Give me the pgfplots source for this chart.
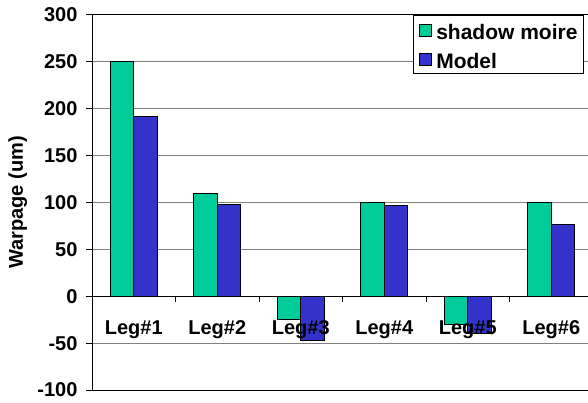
\documentclass[border=0pt]{standalone}
\usepackage{fontspec}
\setmainfont{Liberation Sans}
\usepackage{pgfplots}
\pgfplotsset{compat=1.18}
\definecolor{cgreen}{RGB}{0,204,153}
\definecolor{cblue}{RGB}{51,51,204}
\pgfplotsset{sqlegend/.style={legend image code/.code={\draw[##1, line width=0.75bp] (0bp,-6bp) rectangle (12bp,6bp); \path (-1bp,0bp) (15bp,0bp);}}}
\pgfplotsset{common/.style={
  at={(92bp,12bp)}, anchor=south west,
  scale only axis, width=501bp, height=375bp,
  xmin=-0.5, xmax=5.5, ymin=-100, ymax=300,
  axis x line=middle, axis y line=left,
  hide obscured x ticks=false,
  tick align=outside,
  major tick length=6bp,
  xtick={-0.5,0.5,1.5,2.5,3.5,4.5,5.5},
  x tick label as interval,
  tick label style={font=\bfseries\fontsize{20bp}{24bp}\selectfont},
}}
\begin{document}
\begin{tikzpicture}[x=1bp,y=1bp]
\useasboundingbox (0,0) rectangle (588,402);
\begin{axis}[
  common,
  axis line style={-, black, line width=1bp},
  tick style={black, line width=1bp},
  ytick={-100,-50,0,50,100,150,200,250,300},
  yticklabels={-100,-50,0,50,100,150,200,250,300},
  yticklabel style={xshift=-5bp},
  ymajorgrids,
  major grid style={black!50, line width=1bp},
  extra y ticks={-100,300},
  extra y tick labels={},
  extra y tick style={major grid style={black, line width=1bp}},
  xticklabels={},
  ylabel={Warpage (um)},
  ylabel style={at={(axis description cs:-0.148,0.5)}, anchor=center, font=\bfseries\fontsize{20bp}{24bp}\selectfont},
  ybar, bar width=0.282,
  legend style={at={(axis description cs:0.982,1)}, anchor=north east,
    draw=black, line width=1bp, fill=white,
    font=\bfseries\fontsize{21bp}{25bp}\selectfont,
    nodes={text depth=0pt, text height=19bp, inner ysep=0pt},
    inner xsep=4bp, inner ysep=5bp, row sep=10bp},
  legend cell align=left,
]
\addplot[fill=cgreen, draw=black, line width=0.75bp, bar shift=-0.141, sqlegend]
  coordinates {(0,250) (1,110) (2,-25) (3,100) (4,-30) (5,100)};
\addplot[fill=cblue, draw=black, line width=0.75bp, bar shift=0.141, sqlegend]
  coordinates {(0,192) (1,98) (2,-47) (3,97) (4,-40) (5,77)};
\legend{shadow moire, Model}
\end{axis}
\begin{axis}[
  common,
  axis line style={draw=none},
  tick style={draw=none},
  ytick=\empty,
  xticklabels={Leg\#1,Leg\#2,Leg\#3,Leg\#4,Leg\#5,Leg\#6},
  xticklabel style={yshift=-15bp},
]
\end{axis}
\end{tikzpicture}
\end{document}
